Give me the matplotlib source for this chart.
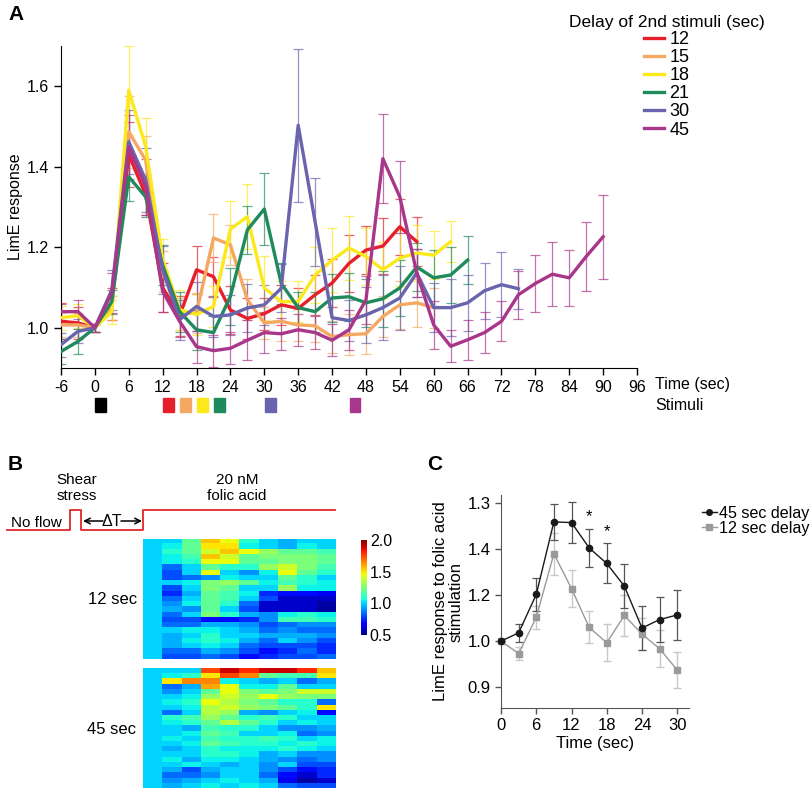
import numpy as np
import matplotlib
matplotlib.use("Agg")
import matplotlib.pyplot as plt
from matplotlib.patches import Rectangle
import matplotlib.transforms as mtransforms

plt.rcParams['font.family'] = ['Liberation Sans', 'DejaVu Sans']
plt.rcParams['axes.unicode_minus'] = False

# ---------------- data, panel A ----------------
delays = ['12', '15', '18', '21', '30', '45']
colors = ['#e5202a', '#f4a862', '#fbe91c', '#1f8a5c', '#6a63ad', '#a8378b']
stim_times = [0, 12, 15, 18, 21, 30, 45]
stim_colors = ['#000000', '#e5202a', '#f4a862', '#fbe91c', '#1f8a5c', '#6a63ad', '#a8378b']

red_y = [1.016, 1.012, 1.0, 1.06, 1.43, 1.33, 1.10, 1.03, 1.144, 1.127, 1.044, 1.023, 1.035,
         1.057, 1.048, 1.082, 1.111, 1.16, 1.193, 1.203, 1.251, 1.214]
red_e = [0.045, 0.04, 0.01, 0.04, 0.08, 0.05, 0.06, 0.05, 0.06, 0.05, 0.06, 0.05, 0.04,
         0.05, 0.05, 0.05, 0.06, 0.07, 0.06, 0.07, 0.07, 0.06]
orange_y = [1.007, 1.007, 1.0, 1.05, 1.487, 1.416, 1.14, 1.035, 1.037, 1.223, 1.206, 1.07, 1.012,
            1.016, 1.007, 1.005, 0.978, 0.983, 0.985, 1.028, 1.057, 1.062, 1.05]
orange_e = [0.03, 0.03, 0.01, 0.03, 0.09, 0.06, 0.05, 0.04, 0.05, 0.06, 0.05, 0.05, 0.04,
            0.05, 0.04, 0.04, 0.04, 0.05, 0.05, 0.05, 0.06, 0.06, 0.05]
yellow_y = [1.025, 1.03, 1.0, 1.04, 1.59, 1.45, 1.17, 1.045, 1.033, 1.053, 1.245, 1.276, 1.099,
            1.065, 1.065, 1.131, 1.168, 1.198, 1.177, 1.144, 1.173, 1.186, 1.18, 1.214]
yellow_e = [0.03, 0.03, 0.01, 0.03, 0.11, 0.07, 0.05, 0.05, 0.05, 0.05, 0.07, 0.08, 0.08,
            0.05, 0.05, 0.07, 0.08, 0.08, 0.07, 0.07, 0.07, 0.07, 0.06, 0.05]
green_y = [0.941, 0.966, 1.0, 1.065, 1.375, 1.325, 1.155, 1.04, 0.995, 0.988, 1.078, 1.243, 1.295,
           1.11, 1.05, 1.04, 1.074, 1.077, 1.062, 1.072, 1.099, 1.151, 1.124, 1.131, 1.168]
green_e = [0.03, 0.03, 0.01, 0.03, 0.06, 0.05, 0.05, 0.05, 0.05, 0.04, 0.07, 0.06, 0.09,
           0.05, 0.04, 0.05, 0.06, 0.06, 0.06, 0.07, 0.07, 0.06, 0.07, 0.07, 0.06]
blue_y = [0.958, 0.991, 1.0, 1.094, 1.462, 1.367, 1.144, 1.02, 1.053, 1.028, 1.032, 1.049, 1.057,
          1.098, 1.503, 1.263, 1.025, 1.018, 1.032, 1.05, 1.074, 1.136, 1.05, 1.05, 1.062,
          1.092, 1.107, 1.097]
blue_e = [0.03, 0.03, 0.01, 0.05, 0.08, 0.08, 0.06, 0.05, 0.06, 0.05, 0.05, 0.06, 0.05,
          0.06, 0.19, 0.11, 0.05, 0.05, 0.07, 0.08, 0.08, 0.06, 0.06, 0.07, 0.07,
          0.07, 0.08, 0.05]
purple_y = [1.04, 1.04, 1.0, 1.087, 1.449, 1.35, 1.09, 1.016, 0.953, 0.943, 0.949, 0.969, 0.988,
            0.985, 0.995, 0.988, 0.969, 0.995, 1.069, 1.42, 1.325, 1.136, 1.007, 0.954, 0.97,
            0.988, 1.016, 1.082, 1.11, 1.133, 1.124, 1.177, 1.226]
purple_e = [0.02, 0.03, 0.01, 0.05, 0.08, 0.07, 0.05, 0.04, 0.04, 0.04, 0.04, 0.05, 0.05,
            0.04, 0.04, 0.04, 0.04, 0.05, 0.06, 0.11, 0.09, 0.06, 0.06, 0.04, 0.05,
            0.05, 0.05, 0.06, 0.07, 0.08, 0.07, 0.085, 0.105]

# ---------------- data, panel B (heatmaps, first column = baseline 1.0) ----------------
heat_12 = [
    [1.0, 1.2, 1.55, 1.45, 1.1, 1.0, 0.95, 1.0, 1.0],
    [1.05, 1.2, 1.5, 1.5, 1.05, 1.0, 0.95, 1.05, 1.0],
    [1.1, 1.2, 1.4, 1.55, 1.45, 1.3, 1.2, 1.2, 1.15],
    [1.05, 1.15, 1.55, 1.4, 1.2, 1.25, 1.25, 1.25, 1.2],
    [1.05, 1.1, 1.45, 1.45, 1.2, 1.2, 1.25, 1.25, 1.2],
    [0.85, 1.0, 1.2, 1.1, 1.1, 1.3, 1.4, 1.25, 1.15],
    [0.8, 1.0, 1.45, 1.0, 0.9, 1.05, 1.45, 1.2, 1.1],
    [0.8, 0.85, 0.9, 1.05, 1.0, 1.0, 1.2, 1.1, 1.0],
    [1.0, 1.05, 1.25, 1.3, 1.2, 1.05, 1.15, 1.1, 1.05],
    [0.8, 1.0, 1.25, 1.2, 1.0, 1.0, 1.3, 1.05, 1.05],
    [0.75, 0.95, 1.2, 1.15, 1.05, 0.75, 0.7, 0.7, 0.65],
    [0.85, 1.0, 1.2, 1.15, 1.0, 0.8, 0.6, 0.6, 0.6],
    [0.9, 1.05, 1.2, 1.1, 0.85, 0.6, 0.6, 0.6, 0.55],
    [0.95, 0.9, 1.2, 1.0, 0.8, 0.6, 0.6, 0.6, 0.55],
    [0.85, 1.0, 1.25, 1.1, 0.95, 0.9, 1.05, 1.1, 1.05],
    [0.8, 0.8, 0.7, 0.7, 0.75, 0.9, 1.15, 1.15, 1.1],
    [0.85, 0.85, 0.95, 0.95, 0.9, 0.8, 0.85, 0.9, 0.9],
    [1.0, 1.05, 1.05, 1.0, 0.95, 0.85, 0.9, 0.85, 0.85],
    [0.95, 1.0, 1.1, 1.0, 1.0, 0.95, 0.95, 0.95, 0.9],
    [0.95, 1.05, 1.1, 1.05, 0.95, 0.85, 1.0, 0.9, 0.8],
    [0.95, 1.0, 1.05, 1.0, 0.85, 0.8, 0.8, 0.8, 0.75],
    [0.85, 0.85, 0.95, 0.9, 0.8, 0.7, 0.75, 0.85, 0.75],
    [0.8, 0.8, 0.85, 0.8, 0.7, 0.75, 0.8, 0.8, 0.85],
]
heat_45 = [
    [1.0, 1.0, 1.75, 1.9, 1.8, 1.9, 1.9, 1.8, 1.55],
    [1.05, 1.1, 1.5, 1.75, 1.65, 1.2, 1.15, 1.15, 1.5],
    [1.5, 1.65, 1.65, 1.05, 1.0, 0.95, 1.0, 0.85, 0.95],
    [0.85, 0.95, 1.6, 1.45, 1.05, 1.05, 1.2, 1.0, 1.0],
    [0.9, 1.0, 1.2, 1.45, 1.25, 1.2, 1.25, 1.4, 1.4],
    [1.0, 1.05, 1.3, 1.4, 1.3, 1.45, 1.3, 1.25, 1.25],
    [1.05, 1.1, 1.45, 1.35, 1.25, 1.2, 1.1, 1.1, 0.85],
    [1.0, 1.05, 1.35, 1.4, 1.3, 1.25, 1.2, 1.1, 1.5],
    [0.85, 1.0, 1.35, 1.3, 0.95, 0.9, 1.0, 1.05, 0.7],
    [1.1, 1.15, 1.3, 1.2, 1.1, 1.15, 1.1, 1.0, 1.0],
    [1.05, 1.1, 1.2, 1.35, 1.2, 1.1, 1.0, 1.05, 1.0],
    [1.0, 0.95, 1.15, 1.1, 1.1, 1.0, 0.9, 0.9, 0.95],
    [1.0, 1.05, 1.2, 1.15, 1.0, 1.0, 1.05, 0.85, 0.9],
    [1.05, 1.0, 1.15, 1.1, 1.1, 1.15, 1.1, 1.0, 1.05],
    [1.0, 1.05, 1.2, 1.15, 1.1, 1.1, 1.05, 1.1, 1.05],
    [0.95, 1.0, 1.1, 1.05, 1.05, 1.05, 1.1, 1.05, 1.0],
    [1.0, 1.0, 1.1, 1.1, 1.05, 0.95, 1.0, 0.9, 0.9],
    [1.05, 0.95, 1.05, 1.05, 1.0, 0.95, 0.9, 0.85, 0.9],
    [1.0, 1.05, 1.0, 0.95, 1.0, 0.9, 1.0, 0.8, 0.8],
    [0.95, 0.8, 0.95, 1.0, 1.0, 0.9, 0.8, 0.7, 0.75],
    [0.85, 0.85, 0.9, 1.0, 1.0, 0.85, 0.7, 0.6, 0.75],
    [0.9, 0.95, 1.0, 1.05, 1.0, 0.95, 0.65, 0.55, 0.6],
    [0.95, 1.0, 1.05, 1.0, 1.05, 1.0, 0.85, 0.8, 0.8],
]

# ---------------- data, panel C ----------------
c_time = [0, 3, 6, 9, 12, 15, 18, 21, 24, 27, 30]
c45_y = [1.0, 1.036, 1.203, 1.519, 1.516, 1.406, 1.338, 1.239, 1.057, 1.094, 1.114]
c45_e = [0.0, 0.04, 0.072, 0.08, 0.09, 0.084, 0.087, 0.096, 0.097, 0.098, 0.11]
c12_y = [1.0, 0.946, 1.103, 1.38, 1.229, 1.06, 0.993, 1.112, 1.03, 0.967, 0.874]
c12_e = [0.0, 0.03, 0.05, 0.09, 0.08, 0.07, 0.08, 0.09, 0.07, 0.08, 0.08]
c_star_times = [15, 18]
c_yticks = [0.8, 1.0, 1.2, 1.4, 1.6]
c_yticklabels = ['0.9', '1.0', '1.2', '1.4', '1.3']

W, H = 812, 790
fig = plt.figure(figsize=(W / 100, H / 100), dpi=100)


def px_axes(x0, y0, x1, y1):
    return fig.add_axes([x0 / W, 1 - y1 / H, (x1 - x0) / W, (y1 - y0) / H])


# overlay for panel B diagram and labels
ov = fig.add_axes([0, 0, 1, 1])
ov.set_xlim(0, W)
ov.set_ylim(H, 0)
ov.axis('off')

# ---------------- panel A ----------------
axA = px_axes(61, 46, 637, 368)
series = [red_y, orange_y, yellow_y, green_y, blue_y, purple_y]
errs = [red_e, orange_e, yellow_e, green_e, blue_e, purple_e]
for ys, es, c in zip(series, errs, colors):
    t = -6 + 3 * np.arange(len(ys))
    axA.errorbar(t, ys, yerr=es, fmt='none', ecolor=c, alpha=0.7, elinewidth=0.9,
                 capsize=3.5, capthick=0.9, zorder=2)
for ys, c, lab in zip(series, colors, delays):
    t = -6 + 3 * np.arange(len(ys))
    axA.plot(t, ys, color=c, lw=2.4, label=lab, zorder=3)

axA.set_xlim(-6, 96)
axA.set_ylim(0.9, 1.70)
axA.set_xticks(np.arange(-6, 97, 6))
axA.set_yticks([1.0, 1.2, 1.4, 1.6])
axA.set_yticklabels(['1.0', '1.2', '1.4', '1.6'])
axA.spines['top'].set_visible(False)
axA.spines['right'].set_visible(False)
axA.tick_params(labelsize=11.5, length=5, width=1, direction='out')
axA.set_ylabel('LimE response', fontsize=11.5, labelpad=3)
ov.text(655, 385, 'Time (sec)', fontsize=11.5, va='center', ha='left')
ov.text(655, 405, 'Stimuli', fontsize=11.5, va='center', ha='left')

trans = mtransforms.blended_transform_factory(axA.transData, axA.transAxes)
for st, sc in zip(stim_times, stim_colors):
    axA.add_patch(Rectangle((st + 0.1, -0.137), 1.9, 0.044, transform=trans,
                            color=sc, clip_on=False))

axA.legend(loc='upper center', bbox_to_anchor=(667 / W, 1 - 6 / H),
           bbox_transform=fig.transFigure, frameon=False, fontsize=13,
           title='Delay of 2nd stimuli (sec)', title_fontsize=12.5,
           handlelength=1.1, handletextpad=0.3, labelspacing=0.06, borderpad=0)

ov.text(8, 15, 'A', fontsize=15, fontweight='bold', va='center', ha='left')

# ---------------- panel B ----------------
ov.text(8, 464, 'B', fontsize=15, fontweight='bold', va='center', ha='left')
ov.plot([7, 70, 70, 81, 81, 143, 143, 335], [530, 530, 510, 510, 530, 530, 510, 510],
        color='#e3262c', lw=1.3)
ov.text(36, 523, 'No flow', fontsize=11, ha='center', va='center')
ov.text(77, 488, 'Shear\nstress', fontsize=11, ha='center', va='center', linespacing=1.1)
ov.text(237, 488, '20 nM\nfolic acid', fontsize=11, ha='center', va='center', linespacing=1.1)
ov.text(112, 521, '\u0394T', fontsize=11.5, ha='center', va='center')
for xs, xe in [(103, 83), (121, 142)]:
    ov.annotate('', xy=(xe, 521), xytext=(xs, 521),
                arrowprops=dict(arrowstyle='->', color='black', lw=1.1,
                                shrinkA=0, shrinkB=0))
ov.text(113, 600, '12 sec', fontsize=12, ha='center', va='center')
ov.text(112, 729, '45 sec', fontsize=12, ha='center', va='center')

for grid, (y0, y1) in zip([heat_12, heat_45], [(539, 659), (668, 788)]):
    axh = px_axes(143, y0, 335, y1)
    arr = np.column_stack([np.ones(len(grid)), np.array(grid)])
    im = axh.imshow(arr, cmap='jet', vmin=0.5, vmax=2.0, aspect='auto',
                    interpolation='nearest')
    axh.set_xticks([])
    axh.set_yticks([])
    for s in axh.spines.values():
        s.set_visible(False)

cax = px_axes(361, 540, 367, 635)
cb = fig.colorbar(im, cax=cax, ticks=[0.5, 1.0, 1.5, 2.0])
cb.outline.set_visible(False)
cb.ax.tick_params(length=0, labelsize=11.5, pad=2)
cb.ax.set_yticklabels(['0.5', '1.0', '1.5', '2.0'])

# ---------------- panel C ----------------
ov.text(427, 465, 'C', fontsize=15, fontweight='bold', va='center', ha='left')
axC = px_axes(501, 495, 689, 708)
axC.errorbar(c_time, c12_y, yerr=c12_e, fmt='none', ecolor='#c8c8c8', elinewidth=1,
             capsize=3, capthick=1, zorder=2)
axC.errorbar(c_time, c45_y, yerr=c45_e, fmt='none', ecolor='#555555', elinewidth=0.9,
             capsize=3, capthick=0.9, zorder=2)
axC.plot(c_time, c12_y, color='#9a9a9a', lw=1, marker='s', ms=5, label='12 sec delay',
         zorder=3, clip_on=False)
axC.plot(c_time, c45_y, color='#1a1a1a', lw=1, marker='o', ms=4.5, label='45 sec delay',
         zorder=4, clip_on=False)
for st in c_star_times:
    i = c_time.index(st)
    axC.text(st, c45_y[i] + c45_e[i] + 0.02, '*', fontsize=12, ha='center', va='bottom')
axC.set_xlim(0, 32)
axC.set_ylim(0.709, 1.636)
axC.set_xticks([0, 6, 12, 18, 24, 30])
axC.set_yticks(c_yticks)
axC.set_yticklabels(c_yticklabels)
axC.spines['top'].set_visible(False)
axC.spines['right'].set_visible(False)
axC.spines['left'].set_color('#555555')
axC.spines['bottom'].set_color('#555555')
axC.tick_params(labelsize=12, length=4, width=1, color='#555555', direction='out')
axC.set_xlabel('Time (sec)', fontsize=12, labelpad=2)
axC.set_ylabel('LimE response to folic acid\nstimulation', fontsize=12, labelpad=3,
               linespacing=1.0)
h, l = axC.get_legend_handles_labels()
axC.legend(h[::-1], l[::-1], loc='upper left', bbox_to_anchor=(694 / W, 1 - 498 / H),
           bbox_transform=fig.transFigure, frameon=False, fontsize=11.6,
           handlelength=0.9, handletextpad=0.15, labelspacing=0.0, borderpad=0,
           markerscale=0.9)

fig.savefig('out.png', dpi=100)
